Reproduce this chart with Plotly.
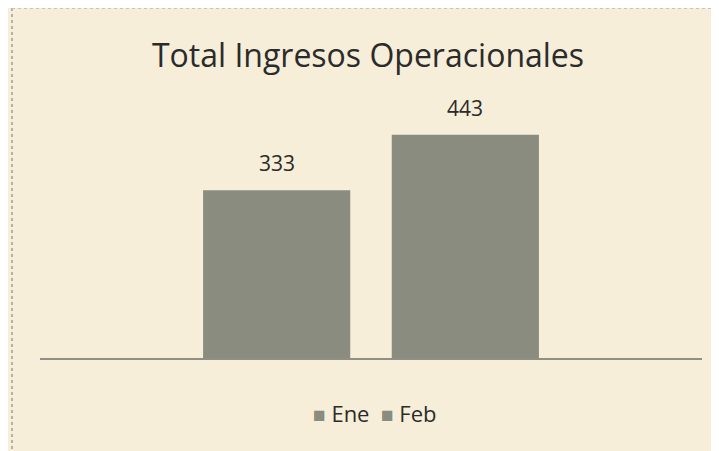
import plotly.graph_objects as go

title = "Total Ingresos Operacionales"
series_names = ["Ene", "Feb"]
values = [333, 443]
category = ["Total"]

bar_color = "#8a8c80"
bg = "#f6eed8"
text_color = "#2b2b2b"
font_family = "'Open Sans', Lato, sans-serif"

# the page adds an 8px body margin, so the figure is sized/offset to compensate
OFF = 8
W, H = 719 - OFF, 451 - OFF
L, R, T, B = 40 - OFF, 17, 106 - OFF, 451 - 358
pw, ph = W - L - R, H - T - B

bargap, bargroupgap = 0.43, 0.22
n = len(series_names)
slot = pw * (1 - bargap) / n  # pixel width of each bar slot in the group

fig = go.Figure()
annotations = []
for i, (name, v) in enumerate(zip(series_names, values)):
    fig.add_trace(go.Bar(
        x=category, y=[v], name=name,
        marker=dict(color=bar_color, line=dict(width=0)),
        cliponaxis=False, showlegend=False,
    ))
    # value label above each bar
    annotations.append(dict(
        x=0, y=v, xref="x", yref="y", text=str(v), showarrow=False,
        xshift=(i - (n - 1) / 2) * slot, yshift=27, yanchor="middle",
        font=dict(size=21, color=text_color, family=font_family)))

# legend built from the series names as real text
legend_text = "  ".join(
    f"<span style='color:{bar_color};font-size:21px'>■</span> {s}" for s in series_names
)
annotations.append(dict(text=legend_text, xref="paper", yref="paper",
                        x=(374 - 40) / pw, y=-(413 - 358) / ph, xanchor="center", yanchor="middle",
                        showarrow=False, font=dict(size=22, color=text_color, family=font_family)))

fig.update_layout(
    width=W, height=H,
    margin=dict(l=L, r=R, t=T, b=B),
    paper_bgcolor=bg, plot_bgcolor=bg,
    barmode="group", bargap=bargap, bargroupgap=bargroupgap,
    title=dict(text=title, x=(368 - OFF) / W, xanchor="center", y=(H - (56 - OFF)) / H, yanchor="middle",
               font=dict(size=32, color=text_color, family=font_family)),
    showlegend=False,
    xaxis=dict(type="category", range=[-0.5, 0.5], showticklabels=False, showgrid=False, zeroline=False,
               showline=True, linecolor="#8f8f86", linewidth=1.5, ticks=""),
    yaxis=dict(range=[0, 500], showticklabels=False, showgrid=False, zeroline=False,
               showline=False, ticks=""),
    annotations=annotations,
)

# chart border (left edge visible in the reference)
x0 = (12 - 40) / pw
fig.add_shape(type="line", xref="paper", yref="paper", x0=x0, x1=x0, y0=(T + ph) / ph, y1=-(B + 5) / ph,
              line=dict(color="#a09d94", width=1.5, dash="dot"))
fig.add_shape(type="line", xref="paper", yref="paper", x0=x0, x1=(W - L + 5) / pw,
              y0=(T + ph - 0.5) / ph, y1=(T + ph - 0.5) / ph,
              line=dict(color="#c8c4b8", width=1, dash="dot"))

fig.write_html("out.html")
